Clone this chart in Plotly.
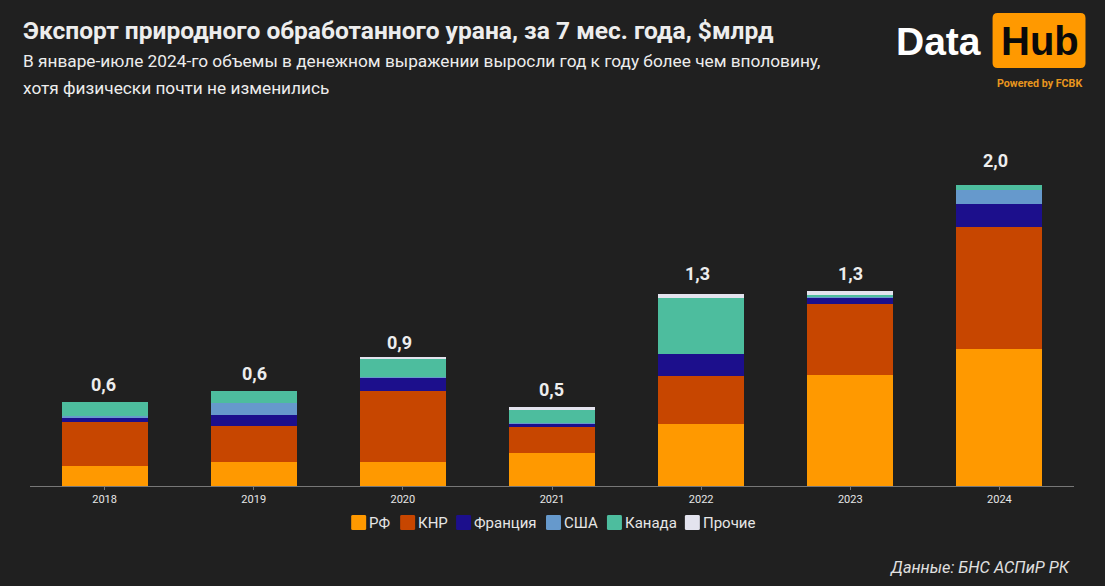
import plotly.graph_objects as go

# Значения, $млрд
years = ["2018", "2019", "2020", "2021", "2022", "2023", "2024"]
rf = [0.131, 0.161, 0.157, 0.219, 0.412, 0.738, 0.910]
knr = [0.292, 0.239, 0.472, 0.171, 0.319, 0.474, 0.811]
france = [0.033, 0.075, 0.093, 0.025, 0.146, 0.040, 0.155]
usa = [0.011, 0.076, 0.002, 0.002, 0.0, 0.009, 0.093]
canada = [0.093, 0.084, 0.126, 0.086, 0.377, 0.011, 0.031]
other = [0.0, 0.0, 0.007, 0.020, 0.024, 0.027, 0.0]
total_labels = ["0,6", "0,6", "0,9", "0,5", "1,3", "1,3", "2,0"]

series = [
    ("РФ", rf, "#FF9900"),
    ("КНР", knr, "#C74600"),
    ("Франция", france, "#1C0F8C"),
    ("США", usa, "#6699CC"),
    ("Канада", canada, "#4DBD9E"),
    ("Прочие", other, "#E3E3EE"),
]

BG = "#202020"
W, H = 1105, 586
LEFT, RIGHT, TOP, BOTTOM = 29.5, 30.5, 100, 99.5
PLOT_W = W - LEFT - RIGHT
PLOT_H = H - TOP - BOTTOM
# левые края квадратов легенды, пиксели
LEGEND_X = [351, 400, 456, 546, 607, 685]
# сдвиги подписей итогов относительно верха столбца, пиксели
LABEL_DX = [-1.5, 1, -3, -0.5, -4, 0, -3.5]
LABEL_DY = [17.5, 17, 15, 18, 20, 17, 25]


def px(x):
    return (x - LEFT) / PLOT_W


def py(y):
    return (H - BOTTOM - y) / PLOT_H


def add_text(fig, x, y, text, size, color, anchor="left", bold=False, italic=False, family="Roboto"):
    if bold:
        text = "<b>" + text + "</b>"
    if italic:
        text = "<i>" + text + "</i>"
    fig.add_annotation(
        x=px(x), y=py(y), xref="paper", yref="paper", text=text, showarrow=False,
        xanchor=anchor, yanchor="middle", borderpad=0, borderwidth=0,
        font=dict(family=family, size=size, color=color),
    )


def rounded_box(fig, left, right, top, bottom, r, color):
    x0, x1, y0, y1 = px(left), px(right), py(top), py(bottom)
    rx, ry = r / PLOT_W, r / PLOT_H
    fig.add_shape(
        type="path", xref="paper", yref="paper", fillcolor=color, line_width=0,
        path=(
            f"M {x0 + rx} {y0} L {x1 - rx} {y0} Q {x1} {y0} {x1} {y0 - ry} "
            f"L {x1} {y1 + ry} Q {x1} {y1} {x1 - rx} {y1} L {x0 + rx} {y1} "
            f"Q {x0} {y1} {x0} {y1 + ry} L {x0} {y0 - ry} Q {x0} {y0} {x0 + rx} {y0} Z"
        ),
    )


fig = go.Figure()
for name, values, color in series:
    fig.add_trace(go.Bar(x=years, y=values, name=name, marker=dict(color=color, line=dict(width=0))))

# Подписи итогов над столбцами
totals = [sum(v) for v in zip(rf, knr, france, usa, canada, other)]
for i, label in enumerate(total_labels):
    fig.add_annotation(
        x=i, y=totals[i], text="<b>" + label + "</b>", showarrow=False,
        yanchor="middle", yshift=LABEL_DY[i], xshift=LABEL_DX[i], borderpad=0, borderwidth=0,
        font=dict(family="Roboto", size=18, color="#EDEDED"),
    )

# Заголовки
add_text(fig, 22, 30, "Экспорт природного обработанного урана, за 7 мес. года, $млрд", 24.55, "#EDEDED", bold=True)
add_text(fig, 22, 61, "В январе-июле 2024-го объемы в денежном выражении выросли год к году более чем вполовину,", 17.25, "#EDEDED")
add_text(fig, 22, 88, "хотя физически почти не изменились", 17.25, "#EDEDED")
add_text(fig, 1071.5, 568, "Данные: БНС АСПиР РК", 16.3, "#E0E0E0", anchor="right", italic=True)

# Легенда
for (name, values, color), left in zip(series, LEGEND_X):
    rounded_box(fig, left, left + 15, 515.5, 530.5, 1.5, color)
    add_text(fig, left + 18, 523.5, name, 15, "#E6E6E6")

# Логотип
rounded_box(fig, 993, 1086, 13, 68, 5, "#FF9900")
add_text(fig, 939, 41, "Data", 39, "#FFFFFF", anchor="center", bold=True, family="Liberation Sans")
add_text(fig, 1040, 41, "Hub", 40, "#0A0A0A", anchor="center", bold=True, family="Liberation Sans")
add_text(fig, 1040, 83, "Powered by FCBK", 10.7, "#E8961E", anchor="center", bold=True)

fig.update_layout(
    barmode="stack",
    bargap=0.424,
    width=W,
    height=H,
    margin=dict(l=LEFT, r=RIGHT, t=TOP, b=BOTTOM, pad=0),
    paper_bgcolor=BG,
    plot_bgcolor=BG,
    font=dict(family="Roboto", color="#E6E6E6"),
    showlegend=False,
)
fig.update_xaxes(
    type="category", range=[-0.5, 6.5], showline=True, linecolor="#777777", linewidth=1,
    ticks="outside", ticklen=3, tickcolor="#777777", tickfont=dict(size=11, color="#E6E6E6"),
    showgrid=False, zeroline=False,
)
fig.update_yaxes(range=[0, PLOT_H / 150.5], visible=False, showgrid=False, zeroline=False)

fig.write_html(
    "out.html",
    config={"displayModeBar": False},
    post_script="document.body.style.margin='0';document.body.style.background='" + BG + "';",
)
